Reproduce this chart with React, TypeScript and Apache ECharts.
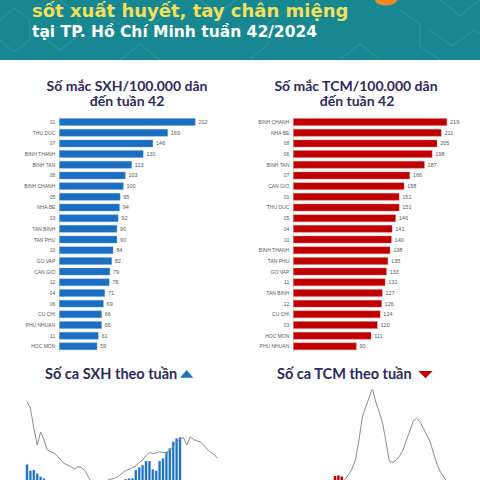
import React, { useEffect, useRef } from "react";
import * as echarts from "echarts";

// Cases per 100,000 residents up to week 42, by district
const sxhDistricts = ["01", "THU DUC", "07", "BINH THANH", "BINH TAN", "08", "BINH CHANH", "05", "NHA BE", "03", "TAN BINH", "TAN PHU", "10", "GO VAP", "CAN GIO", "12", "04", "06", "CU CHI", "PHU NHUAN", "11", "HOC MON"];
const sxhRates = [212, 169, 146, 131, 113, 103, 100, 95, 94, 92, 90, 90, 84, 82, 79, 78, 71, 69, 66, 66, 61, 59];

const tcmDistricts = ["BINH CHANH", "NHA BE", "08", "06", "BINH TAN", "07", "CAN GIO", "01", "THU DUC", "05", "04", "10", "BINH THANH", "TAN PHU", "GO VAP", "11", "TAN BINH", "12", "CU CHI", "03", "HOC MON", "PHU NHUAN"];
const tcmRates = [219, 211, 205, 198, 187, 166, 158, 151, 151, 146, 141, 140, 138, 135, 133, 131, 127, 126, 124, 120, 111, 90];

// Weekly cases: current year (bars) against the reference year (line)
const weekLabels = Array.from({ length: 57 }, (_, i) => `T${i + 1}`);

const sxhWeeklyRef = [1383, 1320, 1120, 950, 1080, 1000, 900, 883, 870, 835, 795, 765, 750, 730, 710, 733, 725, 695, 635, 570, 530, 520, 540, 580, 607, 610, 620, 640, 670, 695, 705, 725, 740, 775, 800, 845, 875, 865, 870, 883, 875, 875, 900, 935, 980, 1010, 1025, 950, 1033, 1005, 990, 983, 950, 905, 880, 855, 820];
const sxhWeekly = [757, 693, 700, 667, 633, 615, 572, 548, 561, 530, 497, 488, 470, 455, 462, 431, 420, 415, 402, 398, 410, 423, 436, 452, 470, 489, 515, 540, 575, 610, 617, 617, 700, 727, 750, 790, 790, 707, 693, 790, 817, 883, 917, 983, 1017, 1027];

const tcmWeeklyRef = [560, 540, 510, 495, 470, 455, 440, 430, 425, 410, 400, 395, 392, 400, 410, 430, 455, 480, 505, 530, 550, 565, 580, 607, 655, 710, 800, 990, 1220, 1330, 1420, 1515, 1380, 1280, 1170, 980, 785, 777, 800, 840, 900, 1000, 1090, 1190, 1215, 1183, 1115, 1050, 980, 865, 760, 680, 630, 580, 545, 520, 500];
const tcmWeekly = [210, 225, 240, 268, 285, 310, 330, 352, 375, 398, 430, 455, 470, 505, 520, 548, 560, 575, 590, 598, 640, 645, 635, 590, 560, 540, 500, 470, 455, 430, 420, 410, 395, 380, 372, 360, 355, 350, 345, 338, 330, 325, 318, 305, 296, 288];

const NAVY = "#2e2a5e";
const BLUE = "#1a6fc2";
const RED = "#c00000";
const GREY_TEXT = "#595959";

function headerPattern() {
  // faint geometric lines across the teal banner
  const lines: any[] = [];
  const stroke = "rgba(255,255,255,0.08)";
  const shapes = [
    [[0, 20], [14, 8], [30, 20], [30, 40], [14, 52], [0, 40]],
    [[60, 0], [78, 14], [78, 36], [60, 50], [42, 36]],
    [[120, 60], [140, 44], [160, 60]],
    [[200, 0], [218, 14], [236, 0]],
    [[250, 60], [268, 44], [268, 24], [290, 8], [312, 24]],
    [[340, 60], [360, 44], [380, 60]],
    [[400, 10], [420, 24], [420, 46], [440, 60]],
    [[440, 0], [460, 16], [480, 0]],
    [[430, 30], [452, 46], [474, 30], [480, 34]],
    [[100, 10], [118, 24], [136, 10], [154, 24], [172, 10]],
  ];
  shapes.forEach((pts) =>
    lines.push({ type: "polyline", shape: { points: pts }, style: { stroke, fill: null, lineWidth: 1.5 }, silent: true })
  );
  return lines;
}

export default function App() {
  const ref = useRef<HTMLDivElement>(null);

  useEffect(() => {
    if (!ref.current) return;
    const chart = echarts.init(ref.current, null, { renderer: "svg" });

    const barCatAxis = (gridIndex: number, data: string[]) => ({
      type: "category",
      gridIndex,
      data,
      inverse: true,
      axisTick: { show: false },
      axisLine: { show: true, lineStyle: { color: "#d9d9d9", width: 0.8 } },
      axisLabel: { show: false },
    });
    const barValAxis = (gridIndex: number) => ({
      type: "value",
      gridIndex,
      min: 0,
      max: 250,
      show: false,
      splitLine: { show: false },
    });
    const weekCatAxis = (gridIndex: number) => ({
      type: "category",
      gridIndex,
      data: weekLabels,
      boundaryGap: true,
      axisLine: { show: false },
      axisTick: { show: false },
      axisLabel: { show: false },
    });
    const weekValAxis = (gridIndex: number) => ({
      type: "value",
      gridIndex,
      min: 0,
      max: 1500,
      show: false,
      splitLine: { show: false },
    });

    const valueLabel = {
      show: true,
      position: "right",
      distance: 3,
      fontSize: 5.5,
      color: GREY_TEXT,
      fontFamily: "Liberation Sans",
    };

    // district names, right-aligned against the bars' left edge
    const nameSeries = (axisIndex: number, data: number[]) => ({
      type: "bar",
      xAxisIndex: axisIndex,
      yAxisIndex: axisIndex,
      data,
      barWidth: "69%",
      barGap: "-100%",
      silent: true,
      itemStyle: { color: "rgba(0,0,0,0)" },
      label: {
        show: true,
        position: "left",
        distance: 4,
        formatter: "{b}",
        fontSize: 5,
        color: GREY_TEXT,
        fontFamily: "Liberation Sans",
      },
    });

    chart.setOption({
      animation: false,
      backgroundColor: "#ffffff",
      grid: [
        { left: 59.3, top: 116.7, width: 160.5, height: 235 },
        { left: 293.3, top: 116.7, width: 175.5, height: 235 },
        { left: 25.3, top: 390, width: 193.8, height: 150 },
        { left: 265.3, top: 390, width: 193.8, height: 150 },
      ],
      xAxis: [barValAxis(0), barValAxis(1), weekCatAxis(2), weekCatAxis(3)],
      yAxis: [barCatAxis(0, sxhDistricts), barCatAxis(1, tcmDistricts), weekValAxis(2), weekValAxis(3)],
      series: [
        {
          type: "bar",
          xAxisIndex: 0,
          yAxisIndex: 0,
          data: sxhRates,
          barWidth: "69%",
          itemStyle: { color: BLUE, borderColor: "#5d9ad6", borderWidth: 0.4 },
          label: valueLabel,
        },
        nameSeries(0, sxhRates),
        {
          type: "bar",
          xAxisIndex: 1,
          yAxisIndex: 1,
          data: tcmRates,
          barWidth: "69%",
          itemStyle: { color: RED, borderColor: "#e06666", borderWidth: 0.4 },
          label: valueLabel,
        },
        nameSeries(1, tcmRates),
        {
          type: "bar",
          xAxisIndex: 2,
          yAxisIndex: 2,
          data: sxhWeekly,
          barWidth: "74%",
          itemStyle: { color: BLUE, borderColor: "#6aa6df", borderWidth: 0.3 },
        },
        {
          type: "line",
          xAxisIndex: 2,
          yAxisIndex: 2,
          data: sxhWeeklyRef,
          symbol: "none",
          lineStyle: { color: "#8c8c8c", width: 1 },
        },
        {
          type: "bar",
          xAxisIndex: 3,
          yAxisIndex: 3,
          data: tcmWeekly,
          barWidth: "74%",
          itemStyle: { color: RED },
        },
        {
          type: "line",
          xAxisIndex: 3,
          yAxisIndex: 3,
          data: tcmWeeklyRef,
          symbol: "none",
          lineStyle: { color: "#8c8c8c", width: 1 },
        },
      ],
      graphic: [
        { type: "rect", shape: { x: 0, y: 0, width: 480, height: 60 }, style: { fill: "#178891" }, silent: true },
        ...headerPattern(),
        { type: "ellipse", shape: { cx: 386, cy: 0, rx: 11, ry: 5.5 }, style: { fill: "#f08a24" }, silent: true },
        {
          type: "text",
          x: 32,
          y: 10,
          style: {
            text: "sốt xuất huyết, tay chân miệng",
            fill: "#f2df5b",
            font: "700 18px 'DejaVu Sans'",
            textAlign: "left",
            textVerticalAlign: "middle",
          },
        },
        {
          type: "text",
          x: 32,
          y: 32,
          style: {
            text: "tại TP. Hồ Chí Minh tuần 42/2024",
            fill: "#ffffff",
            font: "700 15.5px 'DejaVu Sans'",
            textAlign: "left",
            textVerticalAlign: "middle",
          },
        },
        {
          type: "text",
          x: 127,
          y: 85,
          style: { text: "Số mắc SXH/100.000 dân", fill: NAVY, font: "700 14px Lato", textAlign: "center", textVerticalAlign: "middle" },
        },
        {
          type: "text",
          x: 127,
          y: 100.5,
          style: { text: "đến tuần 42", fill: NAVY, font: "700 14px Lato", textAlign: "center", textVerticalAlign: "middle" },
        },
        {
          type: "text",
          x: 356,
          y: 85,
          style: { text: "Số mắc TCM/100.000 dân", fill: NAVY, font: "700 14px Lato", textAlign: "center", textVerticalAlign: "middle" },
        },
        {
          type: "text",
          x: 357,
          y: 100.5,
          style: { text: "đến tuần 42", fill: NAVY, font: "700 14px Lato", textAlign: "center", textVerticalAlign: "middle" },
        },
        {
          type: "text",
          x: 45,
          y: 373.5,
          style: { text: "Số ca SXH theo tuần", fill: NAVY, font: "700 14.5px Lato", textAlign: "left", textVerticalAlign: "middle" },
        },
        {
          type: "polygon",
          shape: { points: [[180, 377.7], [193.3, 377.7], [186.7, 370]] },
          style: { fill: "#1f73c1" },
        },
        {
          type: "text",
          x: 277,
          y: 373.5,
          style: { text: "Số ca TCM theo tuần", fill: NAVY, font: "700 14.5px Lato", textAlign: "left", textVerticalAlign: "middle" },
        },
        {
          type: "polygon",
          shape: { points: [[418.3, 371], [432.7, 371], [425.5, 378.3]] },
          style: { fill: RED },
        },
      ],
    });

    return () => chart.dispose();
  }, []);

  // taller than the window so the weekly charts run past the bottom edge
  return <div ref={ref} style={{ position: "fixed", left: 0, top: 0, width: 480, height: 560 }} />;
}
